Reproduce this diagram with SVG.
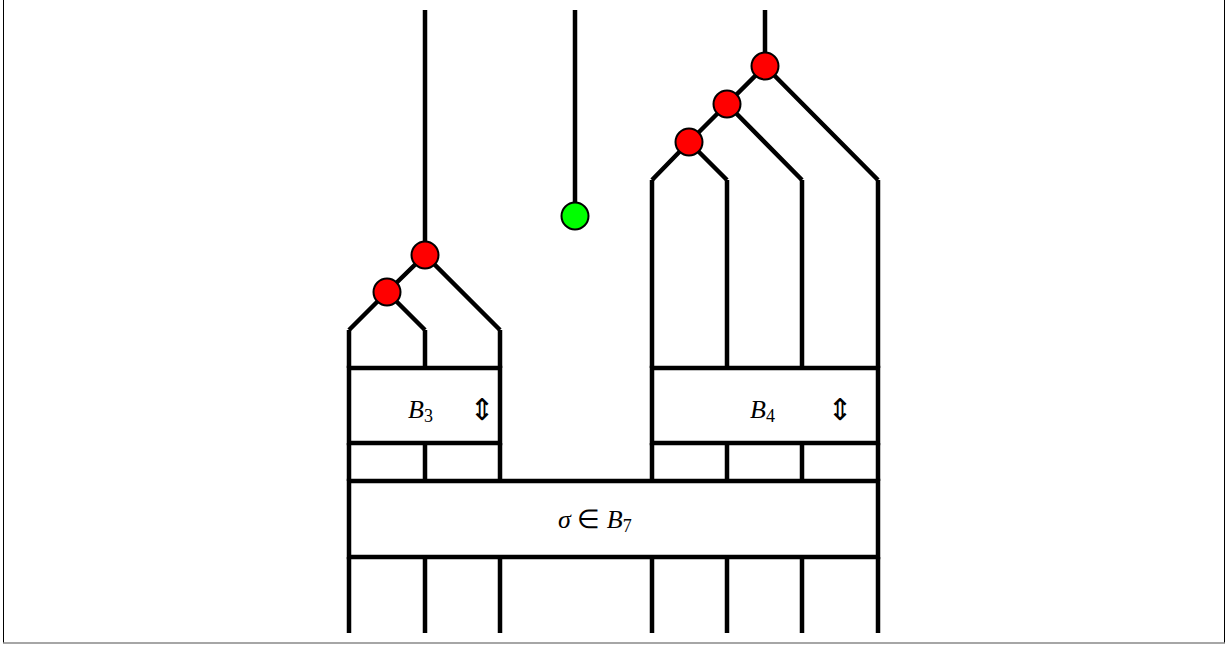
<svg xmlns="http://www.w3.org/2000/svg" width="1230" height="648" viewBox="0 0 1230 648">
<style>
.w{stroke:#000;stroke-width:4.5;fill:none;stroke-linecap:butt}
.box{fill:#fff;stroke:#000;stroke-width:4.5}
.red{fill:#ff0000;stroke:#000;stroke-width:2}
.grn{fill:#00ff00;stroke:#000;stroke-width:2}
.t{font-family:"Liberation Serif",serif;font-size:26px;fill:#000}
.i{font-style:italic}
.s{font-size:18px}
.a{font-family:"DejaVu Sans",sans-serif;font-size:30px;fill:#000}
</style>
<rect x="0" y="0" width="1230" height="648" fill="#fff"/>
<g id="frame">
<line x1="3.5" y1="0" x2="3.5" y2="643" stroke="#000" stroke-width="1"/>
<line x1="1224.5" y1="0" x2="1224.5" y2="643" stroke="#000" stroke-width="1"/>
<line x1="3" y1="643" x2="1225" y2="643" stroke="#888" stroke-width="1.5"/>
</g>
<g id="connectors">
<path class="w" d="M425,10V255M425,255L500,330M387,292L349,330M387,292L425,330M425,255L387,292"/>
<path class="w" d="M349,330V368M425,330V368M500,330V368"/>
<path class="w" d="M349,443V481M425,443V481M500,443V481"/>
<path class="w" d="M575,10V216"/>
<path class="w" d="M765,10V66M765,66L878,180M765,66L727,104M727,104L802,180M727,104L689,142M689,142L652,180M689,142L727,180"/>
<path class="w" d="M652,180V368M727,180V368M802,180V368M878,180V368"/>
<path class="w" d="M652,443V481M727,443V481M802,443V481M878,443V481"/>
<path class="w" d="M349,557V633M425,557V633M500,557V633M652,557V633M727,557V633M802,557V633M878,557V633"/>
</g>
<g id="B3">
<rect class="box" x="349" y="368" width="151" height="75"/>
<text class="t i" x="408" y="418">B<tspan class="s" font-style="normal" dy="4">3</tspan></text>
<text class="a" x="482" y="420" text-anchor="middle">⇕</text>
</g>
<g id="B4">
<rect class="box" x="652" y="368" width="226" height="75"/>
<text class="t i" x="750" y="418">B<tspan class="s" font-style="normal" dy="4">4</tspan></text>
<text class="a" x="840" y="420" text-anchor="middle">⇕</text>
</g>
<g id="B7">
<rect class="box" x="349" y="481" width="529" height="76"/>
<text class="t" x="558" y="528"><tspan class="i">σ</tspan> ∈ <tspan class="i">B</tspan><tspan class="s" dy="4">7</tspan></text>
</g>
<g id="node-r1"><circle class="red" cx="425" cy="255" r="13.5"/></g>
<g id="node-r2"><circle class="red" cx="387" cy="292" r="13.5"/></g>
<g id="node-g"><circle class="grn" cx="575" cy="216" r="13.5"/></g>
<g id="node-r3"><circle class="red" cx="765" cy="66" r="13.5"/></g>
<g id="node-r4"><circle class="red" cx="727" cy="104" r="13.5"/></g>
<g id="node-r5"><circle class="red" cx="689" cy="142" r="13.5"/></g>
</svg>
